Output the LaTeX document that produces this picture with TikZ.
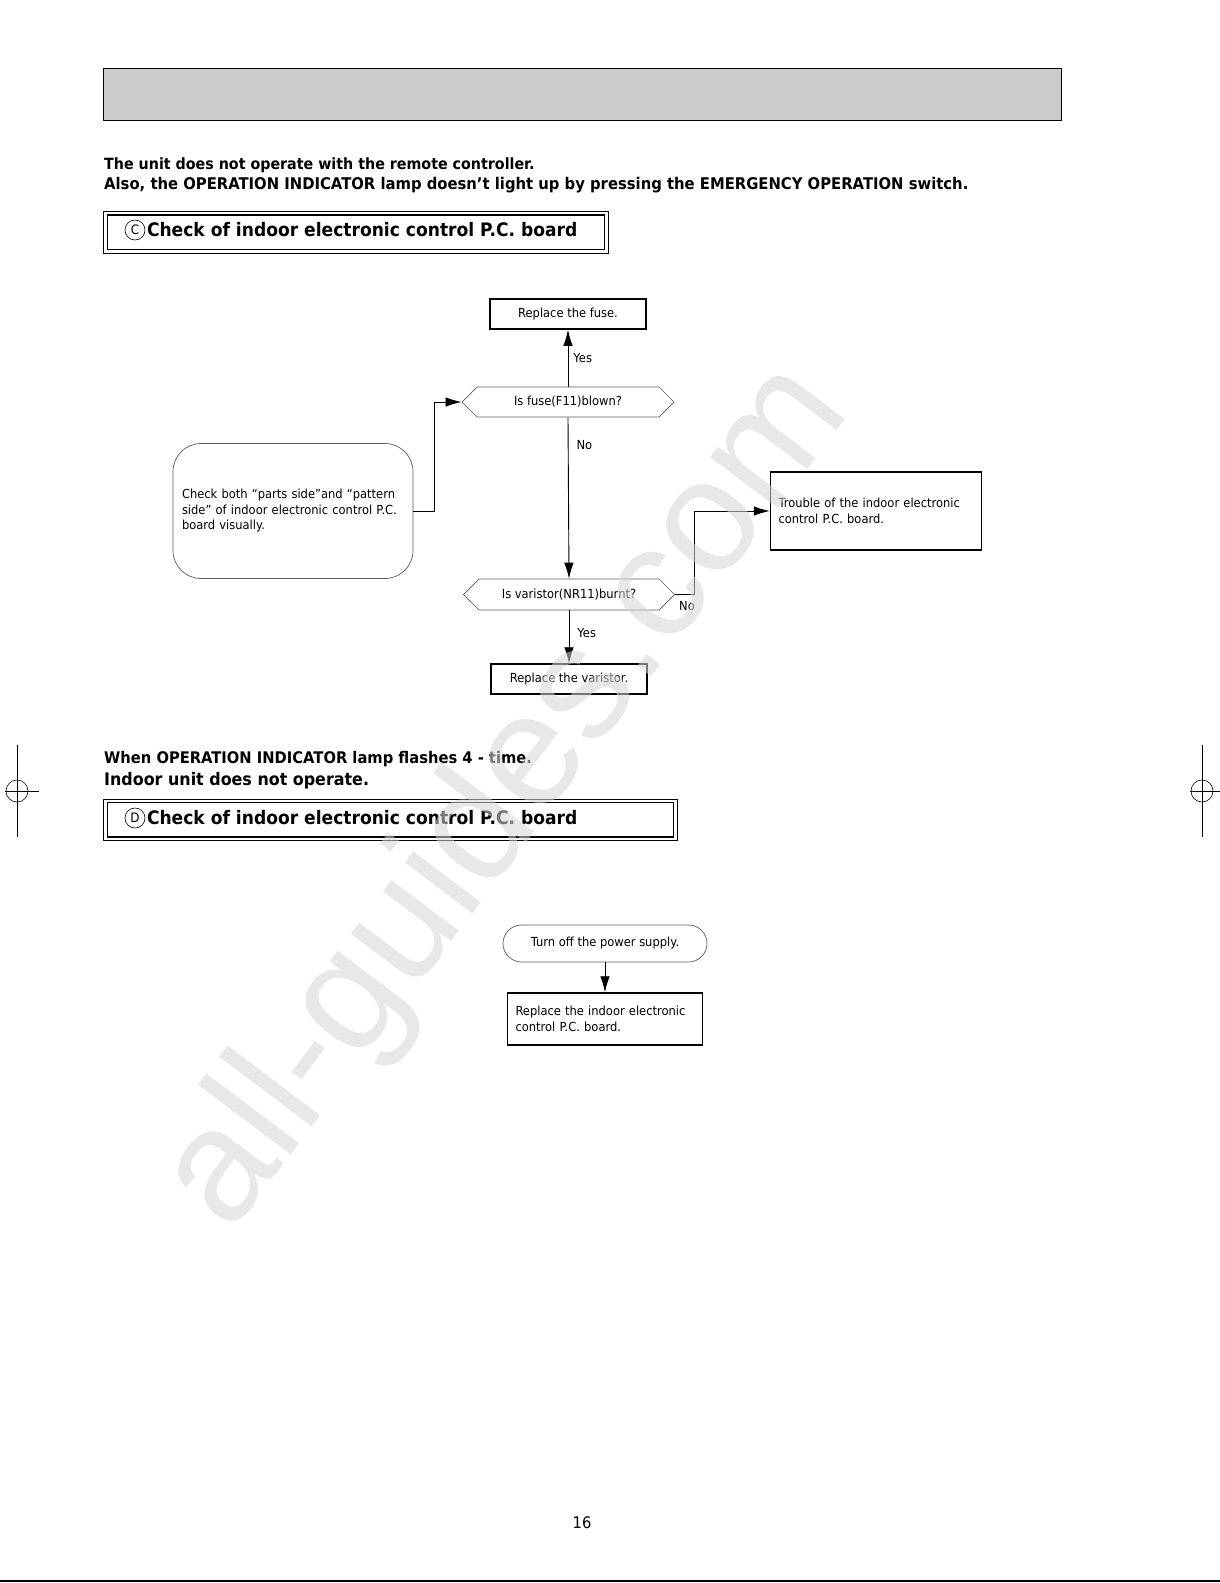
\documentclass[tikz,border=0pt]{standalone}
\usepackage{fontspec}
\setmainfont{DejaVu Sans}[FakeStretch=0.92]
\newfontfamily\markfont{Liberation Sans}
\usepackage{tikz}
\usetikzlibrary{shapes.geometric, shapes.misc, shapes.symbols, arrows.meta, positioning, calc}
\definecolor{barshade}{RGB}{204, 204, 204}
\definecolor{markshade}{RGB}{214, 214, 214}
\definecolor{queryline}{RGB}{90, 90, 90}

\begin{document}
\begin{tikzpicture}[
    x=1pt, y=-1pt,
    every node/.style={font=\fontsize{12.5}{15.5}\selectfont, inner sep=0pt},
    heading/.style={anchor=west, font=\fontsize{15.5}{18}\selectfont\bfseries},
    frametitle/.style={anchor=west, font=\fontsize{18.6}{22}\selectfont\bfseries},
    circled/.style={circle, draw, line width=0.6pt, minimum size=20pt, font=\fontsize{13}{13}\selectfont},
    action/.style={rectangle, draw, line width=1.5pt, minimum width=156pt, minimum height=30pt, align=center},
    notebox/.style={rectangle, draw, line width=1.5pt, align=left, inner xsep=8pt},
    query/.style={signal, signal to=west and east, signal pointer angle=90, draw=queryline, line width=0.7pt, minimum width=212pt, minimum height=30pt},
    start/.style={rounded rectangle, draw=queryline, line width=0.7pt, minimum width=204pt, minimum height=37pt},
    lbl/.style={anchor=west, font=\fontsize{12.5}{14}\selectfont},
    arrow/.style={-{Latex[length=16pt, width=9.5pt]}, line width=0.9pt}
]
\useasboundingbox (0,0) rectangle (1220,1583);

% Page head
\fill[barshade] (103,68) rectangle (1061,120);
\draw[line width=1pt] (103,68) rectangle (1061,120);

% Section C: heading and frame
\node[heading] (lineA) at (104,165) {The unit does not operate with the remote controller.};
\node[heading, font=\fontsize{16.1}{18}\selectfont\bfseries] (lineB) at (104,185) {Also, the OPERATION INDICATOR lamp doesn’t light up by pressing the EMERGENCY OPERATION switch.};
\draw[line width=0.9pt] (103,211) rectangle (608,253);
\draw[line width=1.8pt] (107.5,215) rectangle (604.5,249.5);
\node[circled] (markC) at (135,230) {C};
\node[frametitle, right=1.5pt of markC] (titleC) {Check of indoor electronic control P.C. board};

% Section C: flow chart
\node[action] (fuse) at (568,314) {Replace the fuse.};
\node[query] (fuseq) at (568,402) {Is fuse(F11)blown?};
\node[rectangle, rounded corners=28pt, draw=queryline, line width=0.7pt, minimum width=240pt, minimum height=135pt, text width=222pt, align=left] (visual) at (293,511) {Check both “parts side”and “pattern\\side” of indoor electronic control P.C.\\board visually.};
\node[notebox, minimum width=211pt, minimum height=78pt, text width=195pt] (trouble) at (876,511) {Trouble of the indoor electronic\\control P.C. board.};
\node[query, minimum width=211pt, minimum height=31pt] (varq) at (569,594.5) {Is varistor(NR11)burnt?};
\node[action] (varistor) at (569,679) {Replace the varistor.};

\draw[arrow] (fuseq.north) -- node[lbl, right=5pt] {Yes} (fuse.south);
\draw[arrow] (fuseq.south) -- node[lbl, pos=0.17, right=8pt] {No} (varq.north);
\draw[arrow] (visual.east) -- ++(21,0) |- (fuseq.west);
\draw[arrow] (varq.east) -- ++(19,0) |- (trouble.west);
\node[lbl] (varno) at (679,606) {No};
\draw[arrow] (varq.south) -- node[lbl, pos=0.42, right=8pt] {Yes} (varistor.north);

% Section D: heading and frame
\node[heading, font=\fontsize{16}{18}\selectfont\bfseries] (lineC) at (104,759) {When OPERATION INDICATOR lamp flashes 4 - time.};
\node[heading, font=\fontsize{17.3}{21}\selectfont\bfseries] (lineD) at (104,781) {Indoor unit does not operate.};
\draw[line width=0.9pt] (103,799) rectangle (677,840.5);
\draw[line width=1.8pt] (107.5,802.5) rectangle (673.5,837);
\node[circled] (markD) at (135,818) {D};
\node[frametitle, right=1.5pt of markD] (titleD) {Check of indoor electronic control P.C. board};

% Section D: flow chart
\node[start] (poweroff) at (605,943.5) {Turn off the power supply.};
\node[notebox, minimum width=195pt, minimum height=52pt, text width=179pt] (board) at (605,1019) {Replace the indoor electronic\\control P.C. board.};
\draw[arrow] (poweroff.south) -- (board.north);

% Page foot and registration marks
\node[font=\fontsize{16}{18}\selectfont] (pageno) at (582,1523) {16};
\draw[line width=2pt] (0,1580.5) -- (1220,1580.5);
\foreach \mx in {17, 1202} {
  \draw[line width=0.6pt] (\mx,745) -- (\mx,837);
  \draw[line width=0.6pt] (\mx-12,791) -- (\mx+22,791);
  \draw[line width=0.6pt] (\mx,791) circle (11);
}

% Watermark
\node[rotate=53, text=markshade, opacity=0.55, font=\fontsize{160}{160}\selectfont\markfont] (mark) at (508,798) {all-guides.com};
\end{tikzpicture}
\end{document}
